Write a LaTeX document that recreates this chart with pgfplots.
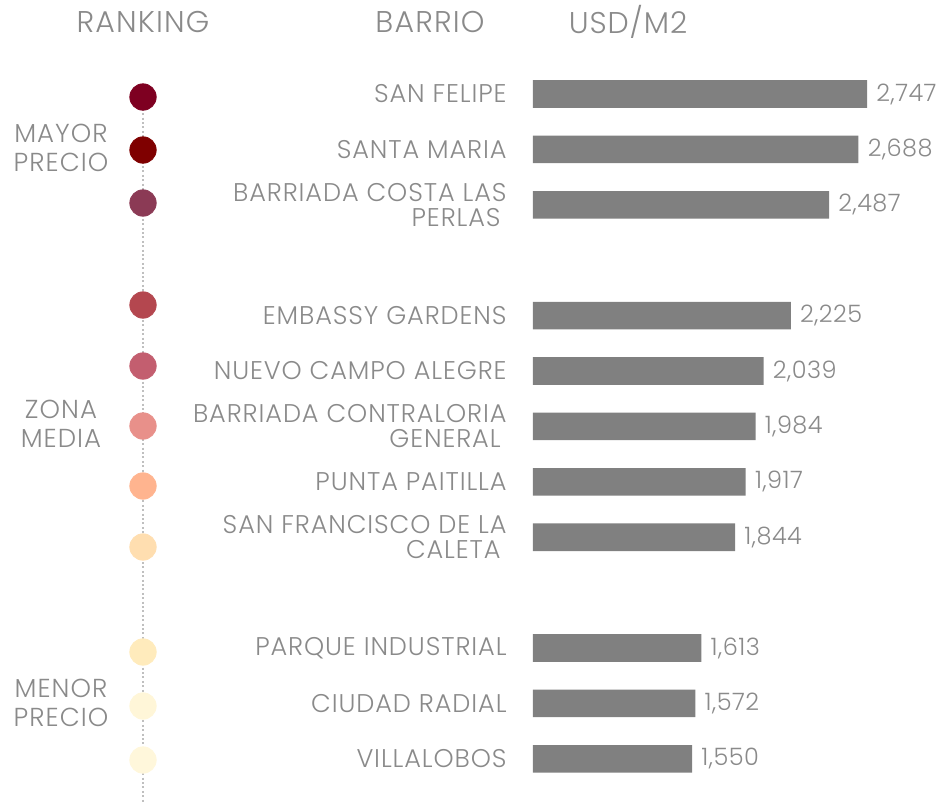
\documentclass[border=0pt]{standalone}
\usepackage{fontspec}
\setmainfont{Poppins Light}
\usepackage{pgfplots}
\pgfplotsset{compat=1.18}
\definecolor{txt}{HTML}{8A8A8A}
\definecolor{bar}{HTML}{808080}
\definecolor{c1}{HTML}{7E0021}
\definecolor{c2}{HTML}{7F0000}
\definecolor{c3}{HTML}{8B3A55}
\definecolor{c4}{HTML}{B4474F}
\definecolor{c5}{HTML}{C35E6F}
\definecolor{c6}{HTML}{E8908A}
\definecolor{c7}{HTML}{FFB48F}
\definecolor{c8}{HTML}{FFDEB0}
\definecolor{c9}{HTML}{FFEBBC}
\definecolor{c10}{HTML}{FFF6D8}
\definecolor{c11}{HTML}{FFF7DB}
\pgfplotsset{dot/.style={only marks, mark=*, mark size=6.6pt, color=#1, mark options={draw=#1, fill=#1}}}
\begin{document}
\begin{tikzpicture}[x=1pt,y=1pt]
\path[use as bounding box] (0,0) rectangle (469.5,-401.5);
% pixel axis for dots and texts
\begin{axis}[
  at={(0,0)}, anchor=north west,
  scale only axis, width=469.5pt, height=401.5pt,
  xmin=0, xmax=939, ymin=0, ymax=803, y dir=reverse,
  axis lines=none, clip=false,
]
\addplot[draw=black!25, line width=0.8pt, dash pattern=on 1pt off 1.2pt] coordinates {(143,100) (143,803)};
\addplot[dot=c1] coordinates {(143,97)};
\addplot[dot=c2] coordinates {(143,150)};
\addplot[dot=c3] coordinates {(143,203)};
\addplot[dot=c4] coordinates {(143,305)};
\addplot[dot=c5] coordinates {(143,366)};
\addplot[dot=c6] coordinates {(143,426)};
\addplot[dot=c7] coordinates {(143,486)};
\addplot[dot=c8] coordinates {(143,547)};
\addplot[dot=c9] coordinates {(143,652)};
\addplot[dot=c10] coordinates {(143,706)};
\addplot[dot=c11] coordinates {(143,760)};
\node[text=txt, font=\fontsize{15}{18}\selectfont\addfontfeatures{LetterSpace=4}] at (axis cs:143,22) {RANKING};
\node[text=txt, font=\fontsize{15}{18}\selectfont\addfontfeatures{LetterSpace=4}] at (axis cs:430,22) {BARRIO};
\node[text=txt, font=\fontsize{15}{18}\selectfont\addfontfeatures{LetterSpace=3}] at (axis cs:628,22) {USD/M2};
\node[text=txt, align=center, font=\fontsize{13}{14.3}\selectfont\addfontfeatures{LetterSpace=4}] at (axis cs:61,148) {MAYOR\\PRECIO};
\node[text=txt, align=center, font=\fontsize{13}{14.3}\selectfont\addfontfeatures{LetterSpace=4}] at (axis cs:61,424) {ZONA\\MEDIA};
\node[text=txt, align=center, font=\fontsize{13}{14.3}\selectfont\addfontfeatures{LetterSpace=4}] at (axis cs:61,703) {MENOR\\PRECIO};
\end{axis}
% bar axis
\begin{axis}[
  at={(266.5pt,0)}, anchor=north west,
  scale only axis, width=203pt, height=401.5pt,
  xmin=462, xmax=3239, ymin=0, ymax=803, y dir=reverse,
  axis line style={draw=none}, xbar, bar width=13.8pt,
  xtick=\empty,
  ytick={94,149.4,204.8,315.6,371,426.4,481.8,537.2,648,703.4,758.8},
  yticklabels={SAN FELIPE, SANTA MARIA, {BARRIADA COSTA LAS\\PERLAS\hspace*{3pt}}, EMBASSY GARDENS, NUEVO CAMPO ALEGRE, {BARRIADA CONTRALORIA\\GENERAL\hspace*{3pt}}, PUNTA PAITILLA, {SAN FRANCISCO DE LA\\CALETA\hspace*{3pt}}, PARQUE INDUSTRIAL, CIUDAD RADIAL, VILLALOBOS},
  major tick length=0pt,
  yticklabel style={align=right, anchor=east, inner sep=0pt, xshift=-13pt, font=\fontsize{12.8}{12.4}\selectfont\addfontfeatures{LetterSpace=3.5}, text=txt},
  nodes near coords,
  /pgf/number format/assume math mode=true,
  /pgf/number format/.cd, 1000 sep={,}, fixed, precision=0,
  /pgfplots/.cd,
  nodes near coords style={anchor=west, inner sep=0pt, xshift=4.5pt, font=\fontsize{12}{12}\selectfont\addfontfeatures{LetterSpace=2}, text=txt},
]
\addplot[fill=bar, draw=none] coordinates {
(2747,94) (2688,149.4) (2487,204.8) (2225,315.6) (2039,371) (1984,426.4) (1917,481.8) (1844,537.2) (1613,648) (1572,703.4) (1550,758.8)};
\end{axis}
\end{tikzpicture}
\end{document}
